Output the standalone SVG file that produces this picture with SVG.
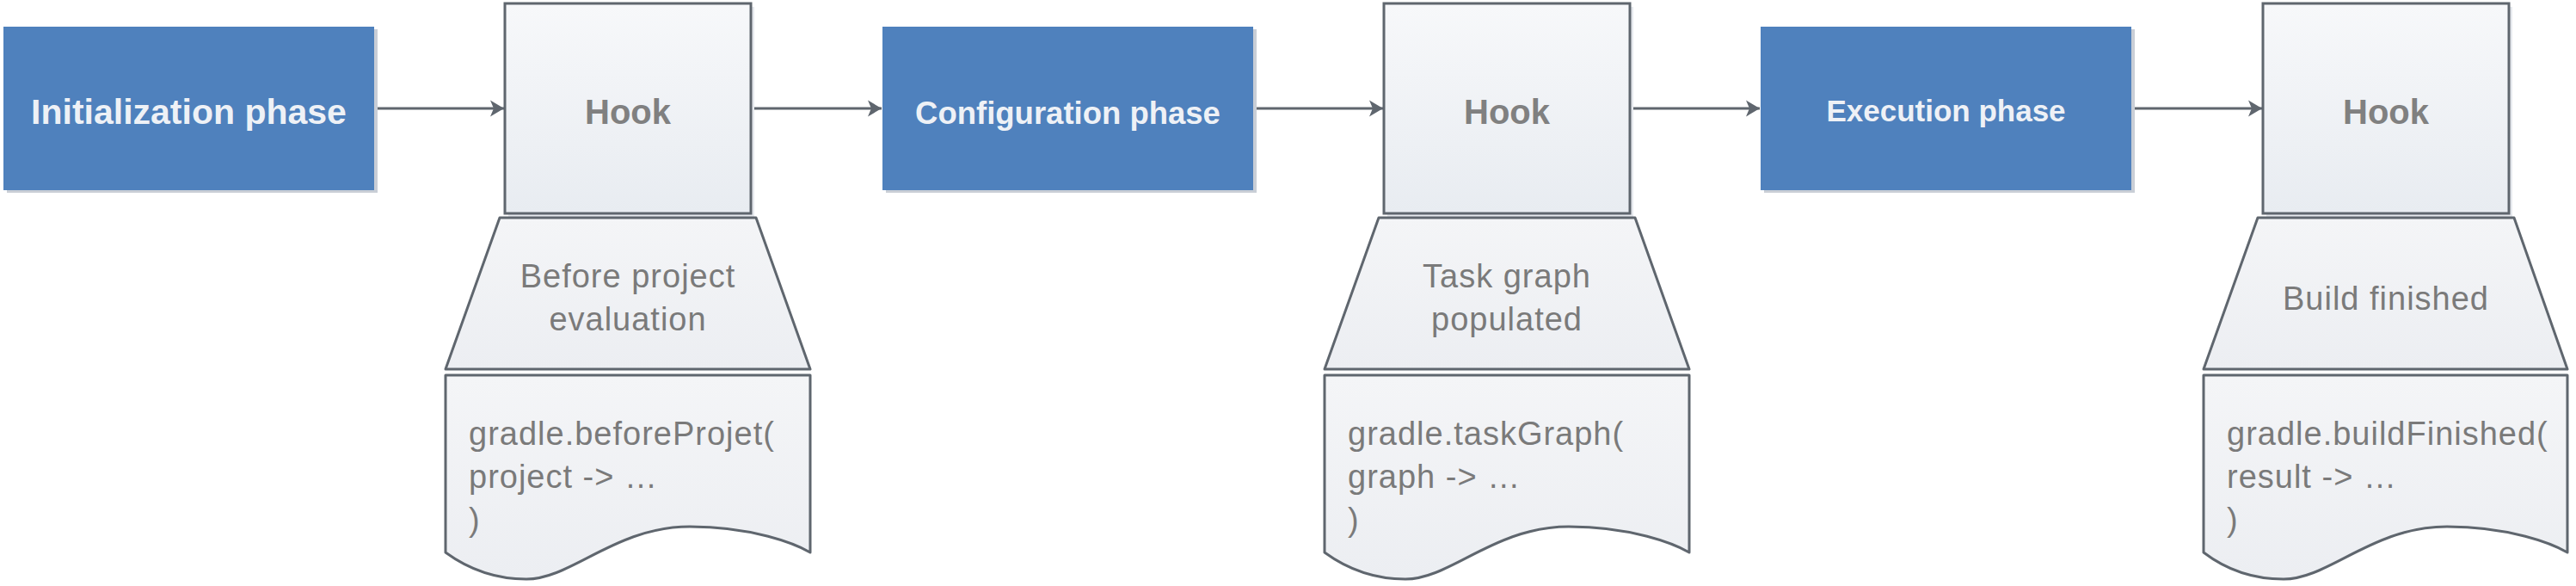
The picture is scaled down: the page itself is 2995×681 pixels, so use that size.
<svg xmlns="http://www.w3.org/2000/svg" width="2995" height="681" viewBox="0 0 2995 681">
<defs>
<linearGradient id="hookGrad" x1="0" y1="0" x2="0" y2="1">
<stop offset="0" stop-color="#f7f8fa"/>
<stop offset="1" stop-color="#e8ecf1"/>
</linearGradient>
<linearGradient id="docGrad" x1="0" y1="0" x2="0" y2="1">
<stop offset="0" stop-color="#f4f5f7"/>
<stop offset="1" stop-color="#eceef2"/>
</linearGradient>
<marker id="arrow" markerUnits="userSpaceOnUse" markerWidth="18" markerHeight="20" refX="16" refY="10" orient="auto">
<path d="M0,0.5 L16,10 L0,19.5 L4,10 Z" fill="#5f666e"/>
</marker>
<style>
.phase{fill:#4f81bd;}
.pshadow{fill:#c9ced6;}
.ptext{fill:#eef1f6;font-family:"Liberation Sans",Arial,sans-serif;font-weight:bold;text-anchor:middle;}
.hook{fill:url(#hookGrad);stroke:#5f666e;stroke-width:3;}
.hshadow{fill:#e6e9ee;}
.htext{fill:#808080;font-family:"Liberation Sans",Arial,sans-serif;font-weight:bold;font-size:40px;text-anchor:middle;}
.shape{fill:url(#docGrad);stroke:#5f666e;stroke-width:3;stroke-linejoin:round;}
.ttext{fill:#7a7a7a;font-family:"Liberation Sans",Arial,sans-serif;font-size:38px;letter-spacing:1px;text-anchor:middle;}
.ctext{fill:#7a7a7a;font-family:"Liberation Sans",Arial,sans-serif;font-size:38px;letter-spacing:1px;}
.conn{stroke:#5f666e;stroke-width:3;fill:none;}
</style>
</defs>
<rect width="2995" height="681" fill="#ffffff"/>

<g id="connectors">
<line class="conn" x1="435" y1="126" x2="586" y2="126" marker-end="url(#arrow)"/>
<line class="conn" x1="873" y1="126" x2="1025" y2="126" marker-end="url(#arrow)"/>
<line class="conn" x1="1457" y1="126" x2="1608" y2="126" marker-end="url(#arrow)"/>
<line class="conn" x1="1895" y1="126" x2="2046" y2="126" marker-end="url(#arrow)"/>
<line class="conn" x1="2478" y1="126" x2="2630" y2="126" marker-end="url(#arrow)"/>
</g>

<g id="init-phase">
<rect class="pshadow" x="8" y="34" width="431" height="190"/>
<rect class="phase" x="4" y="31" width="431" height="190"/>
<text class="ptext" x="219.5" y="144" font-size="41">Initialization phase</text>
</g>

<g id="hook-1">
<rect class="hshadow" x="591" y="8" width="286" height="244"/>
<rect class="hook" x="587" y="4" width="286" height="244"/>
<text class="htext" x="730" y="144">Hook</text>
</g>
<g id="event-1">
<path class="shape" d="M581,253 L879,253 L942,429 L518,429 Z"/>
<text class="ttext" x="730" y="334">Before project</text>
<text class="ttext" x="730" y="384">evaluation</text>
</g>
<g id="code-1">
<path class="shape" d="M518,436 L942,436 L942,642 C925,632 875,612 802,612 C715,612 665,673 612,673 C570,673 540,658 518,642 Z"/>
<text class="ctext" x="545" y="517">gradle.beforeProjet(</text>
<text class="ctext" x="545" y="567">project -&gt; …</text>
<text class="ctext" x="545" y="617">)</text>
</g>

<g id="config-phase">
<rect class="pshadow" x="1030" y="34" width="431" height="190"/>
<rect class="phase" x="1026" y="31" width="431" height="190"/>
<text class="ptext" x="1241.5" y="143.5" font-size="36.5">Configuration phase</text>
</g>

<g id="hook-2">
<rect class="hshadow" x="1613" y="8" width="286" height="244"/>
<rect class="hook" x="1609" y="4" width="286" height="244"/>
<text class="htext" x="1752" y="144">Hook</text>
</g>
<g id="event-2">
<path class="shape" d="M1603,253 L1901,253 L1964,429 L1540,429 Z"/>
<text class="ttext" x="1752" y="334">Task graph</text>
<text class="ttext" x="1752" y="384">populated</text>
</g>
<g id="code-2">
<path class="shape" d="M1540,436 L1964,436 L1964,642 C1947,632 1897,612 1824,612 C1737,612 1687,673 1634,673 C1592,673 1562,658 1540,642 Z"/>
<text class="ctext" x="1567" y="517">gradle.taskGraph(</text>
<text class="ctext" x="1567" y="567">graph -&gt; …</text>
<text class="ctext" x="1567" y="617">)</text>
</g>

<g id="exec-phase">
<rect class="pshadow" x="2051" y="34" width="431" height="190"/>
<rect class="phase" x="2047" y="31" width="431" height="190"/>
<text class="ptext" x="2262.5" y="141" font-size="35">Execution phase</text>
</g>

<g id="hook-3">
<rect class="hshadow" x="2635" y="8" width="286" height="244"/>
<rect class="hook" x="2631" y="4" width="286" height="244"/>
<text class="htext" x="2774" y="144">Hook</text>
</g>
<g id="event-3">
<path class="shape" d="M2625,253 L2923,253 L2985,429 L2562,429 Z"/>
<text class="ttext" x="2774" y="360">Build finished</text>
</g>
<g id="code-3">
<path class="shape" d="M2562,436 L2985,436 L2985,642 C2968,632 2918,612 2845,612 C2758,612 2708,673 2655,673 C2613,673 2583,658 2562,642 Z"/>
<text class="ctext" x="2589" y="517">gradle.buildFinished(</text>
<text class="ctext" x="2589" y="567">result -&gt; …</text>
<text class="ctext" x="2589" y="617">)</text>
</g>
</svg>
